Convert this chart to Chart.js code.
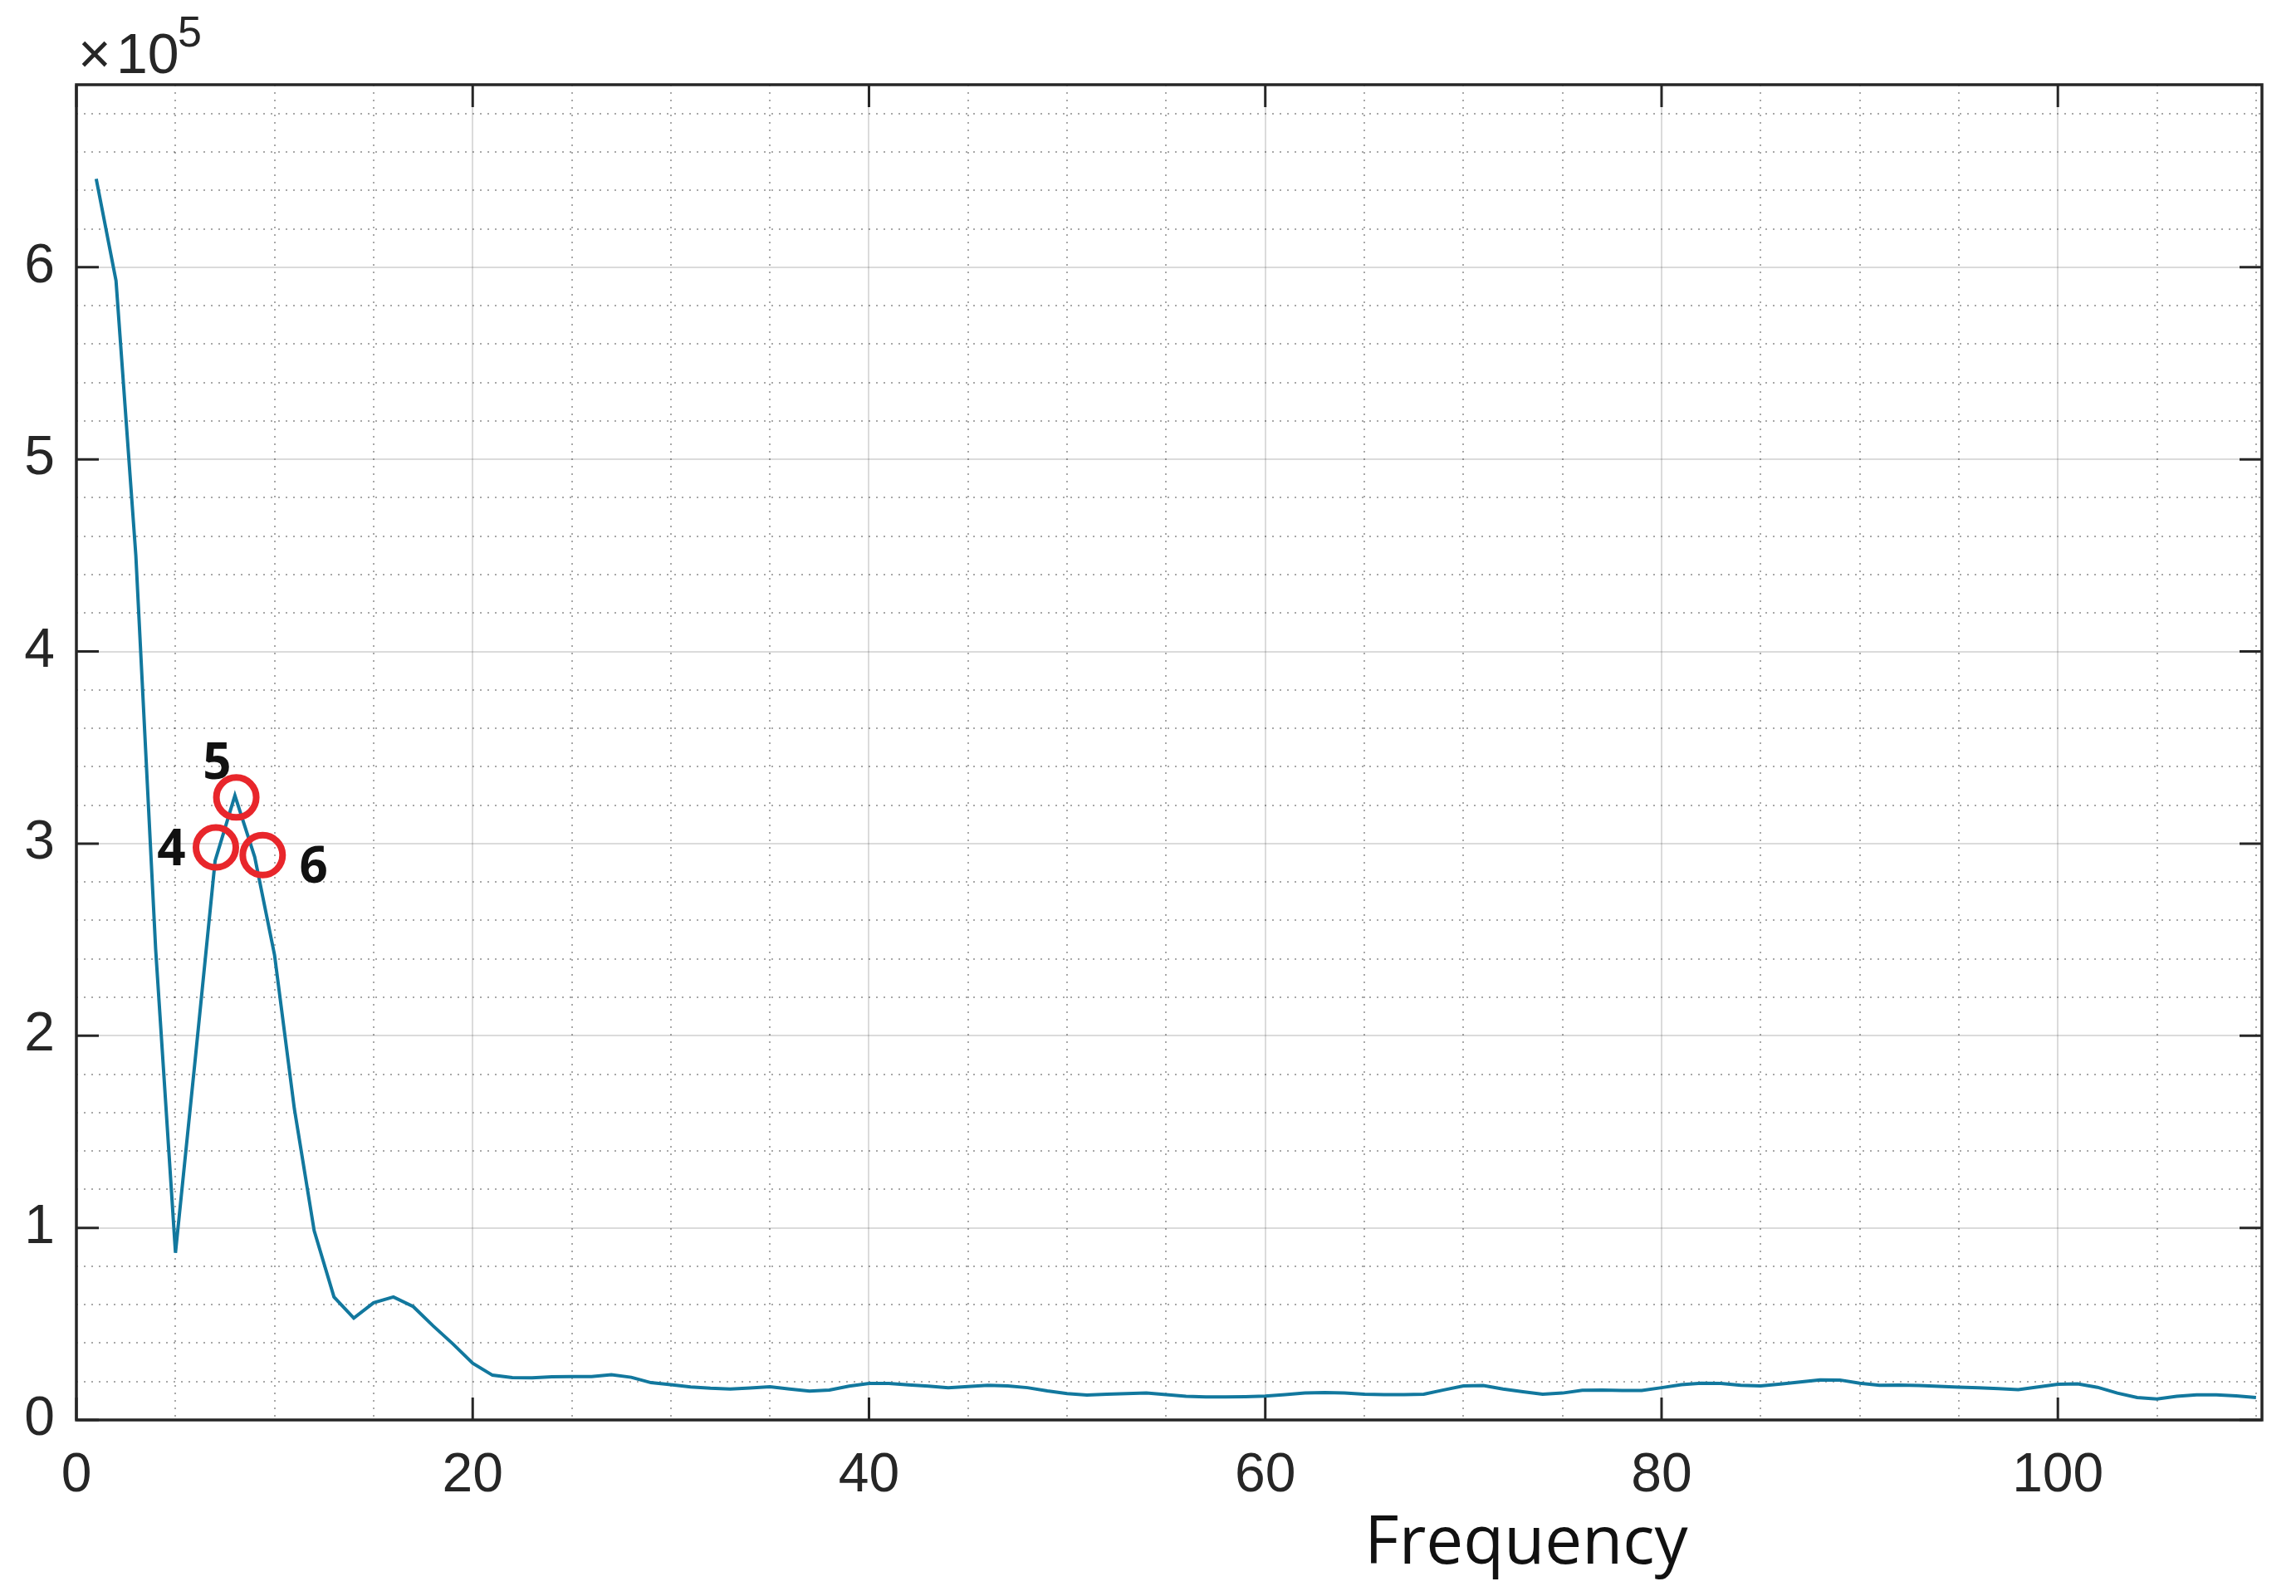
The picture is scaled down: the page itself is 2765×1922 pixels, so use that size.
<!DOCTYPE html>
<html>
<head>
<meta charset="utf-8">
<title>Frequency spectrum</title>
<script src="https://cdn.jsdelivr.net/npm/chart.js@4.4.1/dist/chart.umd.min.js"></script>
<style>
  html, body { margin: 0; padding: 0; background: #fff; }
  #wrap { width: 2765px; height: 1922px; }
</style>
</head>
<body>
<div id="wrap"><canvas id="chart" width="2765" height="1922"></canvas></div>
<script>
// Spectrum. Magnitude is in units of 10^5.
const freq = [
  1, 2, 3, 4, 5, 6, 7, 8, 9, 10, 11, 12, 13, 14, 15, 16, 17, 18, 19, 20,
  21, 22, 23, 24, 25, 26, 27, 28, 29, 30, 31, 32, 33, 34, 35, 36, 37, 38, 39, 40,
  41, 42, 43, 44, 45, 46, 47, 48, 49, 50, 51, 52, 53, 54, 55, 56, 57, 58, 59, 60,
  61, 62, 63, 64, 65, 66, 67, 68, 69, 70, 71, 72, 73, 74, 75, 76, 77, 78, 79, 80,
  81, 82, 83, 84, 85, 86, 87, 88, 89, 90, 91, 92, 93, 94, 95, 96, 97, 98, 99, 100,
  101, 102, 103, 104, 105, 106, 107, 108, 109, 110
];
const magnitude = [
  6.46, 5.93, 4.50, 2.45, 0.87, 1.88, 2.91, 3.25, 2.93, 2.42,
  1.62, 0.985, 0.64, 0.53, 0.61, 0.64, 0.59, 0.49, 0.396, 0.295,
  0.233, 0.220, 0.219, 0.225, 0.226, 0.226, 0.235, 0.222, 0.194, 0.184,
  0.172, 0.165, 0.161, 0.166, 0.173, 0.161, 0.150, 0.156, 0.176, 0.190,
  0.190, 0.183, 0.176, 0.168, 0.174, 0.180, 0.177, 0.168, 0.151, 0.137,
  0.130, 0.134, 0.137, 0.140, 0.132, 0.123, 0.120, 0.120, 0.121, 0.124,
  0.132, 0.140, 0.143, 0.140, 0.134, 0.132, 0.132, 0.134, 0.156, 0.177,
  0.179, 0.161, 0.147, 0.134, 0.140, 0.154, 0.156, 0.153, 0.153, 0.168,
  0.184, 0.191, 0.190, 0.180, 0.177, 0.187, 0.198, 0.209, 0.208, 0.191,
  0.180, 0.182, 0.179, 0.175, 0.171, 0.168, 0.163, 0.158, 0.172, 0.186,
  0.188, 0.170, 0.140, 0.117, 0.109, 0.123, 0.131, 0.131, 0.125, 0.117
];

// red circles drawn over the peak and their numbers
const markFreq = [7.04, 8.07, 9.40];
const markMag = [2.98, 3.24, 2.94];
const markText = ['4', '5', '6'];
const textFreq = [4.79, 7.10, 11.97];
const textMag = [2.96, 3.41, 2.87];

// axes
const xMax = 110.3;
const yMax = 6.95;
const xMajorStep = 20;
const xMinorStep = 5;
const yMajorStep = 1;
const yMinorStep = 0.2;

const axisColor = '#262626';
const majorGrid = 'rgba(0,0,0,0.14)';
const minorGrid = 'rgba(0,0,0,0.34)';
const tickFont = { family: '"Liberation Sans", Arial, sans-serif', size: 66 };

function isMajor(v, step) {
  const r = v / step;
  return Math.abs(r - Math.round(r)) < 1e-6;
}

// box, inward ticks, annotation text, exponent and axis title
const decorations = {
  id: 'decorations',
  afterDraw(chart) {
    const { ctx, chartArea: a, scales: { x, y } } = chart;
    const tickLen = 27;
    ctx.save();
    ctx.strokeStyle = axisColor;
    ctx.lineWidth = 3.5;
    ctx.strokeRect(a.left, a.top, a.right - a.left, a.bottom - a.top);

    ctx.lineWidth = 3;
    ctx.beginPath();
    x.ticks.forEach(t => {
      if (!isMajor(t.value, xMajorStep)) return;
      const px = x.getPixelForValue(t.value);
      ctx.moveTo(px, a.bottom); ctx.lineTo(px, a.bottom - tickLen);
      ctx.moveTo(px, a.top); ctx.lineTo(px, a.top + tickLen);
    });
    y.ticks.forEach(t => {
      if (!isMajor(t.value, yMajorStep)) return;
      const py = y.getPixelForValue(t.value);
      ctx.moveTo(a.left, py); ctx.lineTo(a.left + tickLen, py);
      ctx.moveTo(a.right, py); ctx.lineTo(a.right - tickLen, py);
    });
    ctx.stroke();

    // numbers next to the circles
    ctx.fillStyle = '#111';
    ctx.font = 'bold 60px "Open Sans", sans-serif';
    ctx.textAlign = 'center';
    ctx.textBaseline = 'middle';
    markText.forEach((s, i) => {
      ctx.fillText(s, x.getPixelForValue(textFreq[i]), y.getPixelForValue(textMag[i]));
    });

    // x10^5 above the y axis
    ctx.fillStyle = axisColor;
    ctx.textAlign = 'left';
    ctx.textBaseline = 'alphabetic';
    ctx.font = '68px "Liberation Sans", Arial, sans-serif';
    ctx.fillText('\u00d7', 94, 88);
    ctx.fillText('10', 140, 88);
    ctx.font = '52px "Liberation Sans", Arial, sans-serif';
    ctx.fillText('5', 214, 56);

    // axis title
    ctx.fillStyle = '#111';
    ctx.textAlign = 'center';
    ctx.font = '80px "Open Sans", sans-serif';
    ctx.fillText('Frequency', 1838, 1883);
    ctx.restore();
  }
};

const spectrum = freq.map((f, i) => ({ x: f, y: magnitude[i] }));
const marks = markFreq.map((f, i) => ({ x: f, y: markMag[i] }));

new Chart(document.getElementById('chart'), {
  type: 'line',
  data: {
    datasets: [
      {
        label: 'marked bins',
        data: marks,
        showLine: false,
        pointRadius: 24,
        pointHoverRadius: 24,
        pointBorderWidth: 8,
        pointBorderColor: '#e8262b',
        pointBackgroundColor: 'rgba(0,0,0,0)'
      },
      {
        label: 'spectrum',
        data: spectrum,
        borderColor: '#12789e',
        borderWidth: 4,
        pointRadius: 0,
        tension: 0,
        fill: false
      }
    ]
  },
  options: {
    responsive: false,
    animation: false,
    devicePixelRatio: 1,
    layout: { padding: { top: 102, right: 41, left: 0, bottom: 0 } },
    plugins: { legend: { display: false }, tooltip: { enabled: false } },
    scales: {
      x: {
        type: 'linear',
        bounds: 'data',
        min: 0,
        max: xMax,
        afterFit: s => { s.height = 212; },
        border: {
          display: false,
          dash: c => (c.tick && !isMajor(c.tick.value, xMajorStep)) ? [2, 7] : []
        },
        grid: {
          drawTicks: false,
          lineWidth: 2,
          color: c => (c.tick && !isMajor(c.tick.value, xMajorStep)) ? minorGrid : majorGrid
        },
        ticks: {
          stepSize: xMinorStep,
          includeBounds: false,
          autoSkip: false,
          maxRotation: 0,
          padding: 28,
          color: axisColor,
          font: tickFont,
          callback: v => isMajor(v, xMajorStep) ? String(v) : ''
        }
      },
      y: {
        type: 'linear',
        bounds: 'data',
        min: 0,
        max: yMax,
        afterFit: s => { s.width = 92; },
        border: {
          display: false,
          dash: c => (c.tick && !isMajor(c.tick.value, yMajorStep)) ? [2, 7] : []
        },
        grid: {
          drawTicks: false,
          lineWidth: 2,
          color: c => (c.tick && !isMajor(c.tick.value, yMajorStep)) ? minorGrid : majorGrid
        },
        ticks: {
          stepSize: yMinorStep,
          includeBounds: false,
          autoSkip: false,
          padding: 26,
          color: axisColor,
          font: tickFont,
          callback: v => isMajor(v, yMajorStep) ? String(Math.round(v)) : ''
        }
      }
    }
  },
  plugins: [decorations]
});
</script>
</body>
</html>
